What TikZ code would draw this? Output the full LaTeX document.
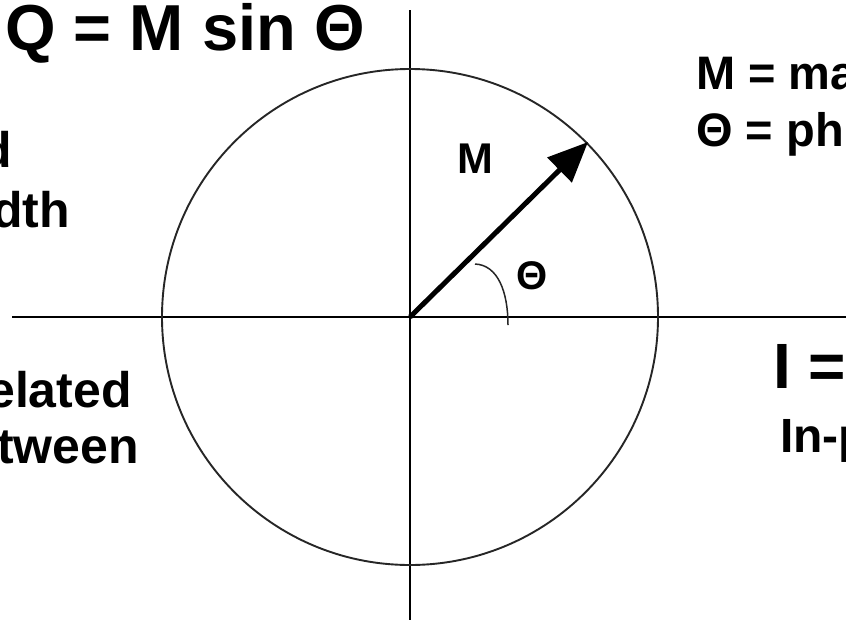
\documentclass[tikz,border=0pt]{standalone}
\usepackage{fontspec}
\setmainfont{Liberation Sans}
\usetikzlibrary{arrows.meta}
\begin{document}
\begin{tikzpicture}[x=1pt,y=-1pt,
  lbl/.style={inner sep=0pt,font=\bfseries},
  axis/.style={line width=2pt,black},
  ring/.style={line width=1.9pt,black!85},
  vec/.style={line width=5pt,-{Triangle[length=40pt,width=34pt]}}]
\useasboundingbox (0,0) rectangle (846,619);
\clip (0,0) rectangle (846,619);
\fill[white] (0,0) rectangle (846,619);
% axes
\coordinate (O) at (410,317);
\coordinate (vtop) at (410,10);
\coordinate (vbot) at (410,625);
\coordinate (hl) at (12,317);
\coordinate (hr) at (850,317);
\draw[axis] (vtop) -- (vbot);
\draw[axis] (hl) -- (hr);
% circle
\draw[ring] (O) circle[radius=248];
% vector
\coordinate (tip) at (588,142);
\draw[vec] (O) -- (tip);
% angle arc
\coordinate (a1) at (475,264);
\coordinate (a2) at (508,325);
\draw[line width=1.5pt,black!85] (a1) .. controls (498,265) and (508,292) .. (a2);
% texts
\node[lbl,anchor=base west,font=\fontsize{65}{65}\bfseries\selectfont] (eqQ) at (5,50) {Q = M sin Θ};
\node[lbl,anchor=base east,font=\fontsize{50}{50}\bfseries\selectfont] (t1) at (12,167) {d};
\node[lbl,anchor=base east,font=\fontsize{50}{50}\bfseries\selectfont] (t2) at (70,227) {dth};
\node[lbl,anchor=base east,font=\fontsize{50}{50}\bfseries\selectfont] (t3) at (132,407) {elated};
\node[lbl,anchor=base east,font=\fontsize{50}{50}\bfseries\selectfont] (t4) at (139,463) {tween};
\node[lbl,anchor=base west,font=\fontsize{43}{43}\bfseries\selectfont] (mlab) at (457,173) {M};
\node[lbl,font=\fontsize{40}{40}\bfseries\selectfont] (thlab) at (532,276) {Θ};
\node[lbl,anchor=base west,font=\fontsize{47}{47}\bfseries\selectfont] (r1) at (696,89) {M = ma};
\node[lbl,anchor=base west,font=\fontsize{47}{47}\bfseries\selectfont] (r2) at (696,146) {Θ = ph};
\node[lbl,anchor=base west,font=\fontsize{64}{64}\bfseries\selectfont] (r3) at (773,388) {I =};
\node[lbl,anchor=base west,font=\fontsize{48}{48}\bfseries\selectfont] (r4) at (780,452) {In-p};
\end{tikzpicture}
\end{document}
